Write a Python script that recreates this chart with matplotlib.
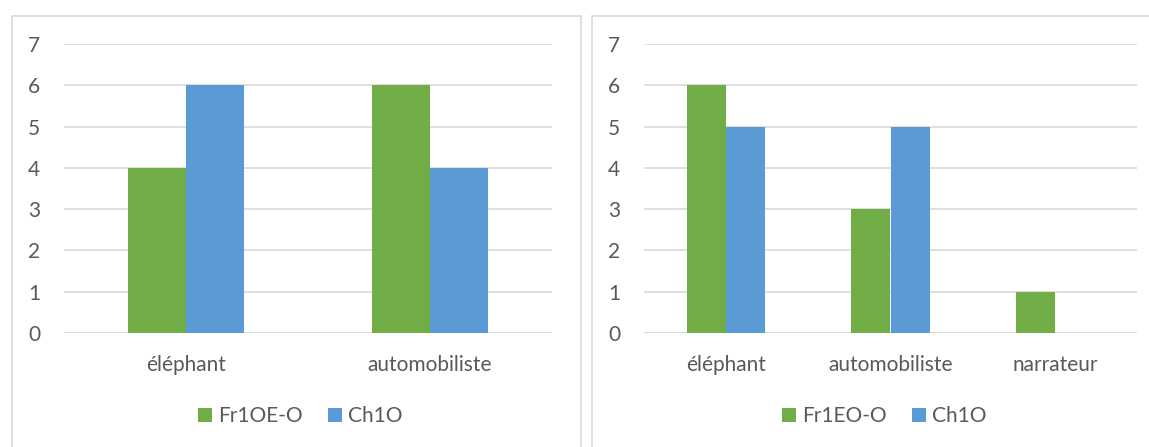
import numpy as np
import matplotlib
matplotlib.use('Agg')
from matplotlib import pyplot as plt
from matplotlib.patches import Rectangle

# data
cats_left = ['éléphant', 'automobiliste']
fr_left = [4, 6]
ch_left = [6, 4]
cats_right = ['éléphant', 'automobiliste', 'narrateur']
fr_right = [6, 3, 1]
ch_right = [5, 5, 0]
labels_left = ['Fr1OE-O', 'Ch1O']
labels_right = ['Fr1EO-O', 'Ch1O']

GREEN = '#70AD47'
BLUE = '#5B9BD5'
TXT = '#595959'
GRID = '#D9D9D9'
FS = 15

plt.rcParams['font.family'] = ['Lato', 'DejaVu Sans']

W, H = 1149, 447
fig = plt.figure(figsize=(W / 100, H / 100), dpi=100)

# chart frames (cropped at bottom / right like the reference)
fig.patches.append(Rectangle((12 / W, -0.1), (581 - 12) / W, 1.1 - 16 / H,
                             transform=fig.transFigure, fill=False, edgecolor=GRID, lw=1.2))
fig.patches.append(Rectangle((592 / W, -0.1), 0.6, 1.1 - 16 / H,
                             transform=fig.transFigure, fill=False, edgecolor=GRID, lw=1.2))


def draw(ax, cats, fr, ch, labels, leg_x):
    x = np.arange(len(cats))
    bw = 1 / (2 + 2.19)
    ax.bar(x - bw / 2, fr, bw, color=GREEN, label=labels[0], zorder=3)
    ax.bar(x + bw / 2, ch, bw, color=BLUE, label=labels[1], zorder=3)
    ax.set_xlim(-0.5, len(cats) - 0.5)
    ax.set_ylim(0, 7)
    ax.set_yticks(range(8))
    ax.set_xticks(x)
    ax.set_xticklabels(cats)
    ax.yaxis.grid(True, color=GRID, lw=1.2, zorder=0)
    ax.set_axisbelow(True)
    for s in ax.spines.values():
        s.set_visible(False)
    ax.axhline(0, color=GRID, lw=1.2, zorder=2)
    ax.tick_params(axis='y', length=0, pad=17, labelsize=FS, labelcolor=TXT)
    ax.tick_params(axis='x', length=0, pad=16, labelsize=FS, labelcolor=TXT)
    ax.legend(loc='center', bbox_to_anchor=(leg_x / W, 1 - 416 / H), bbox_transform=fig.transFigure,
              ncol=2, frameon=False, fontsize=FS, labelcolor=TXT, handlelength=0.68,
              handleheight=0.68, handletextpad=0.3, columnspacing=1.2)


ax1 = fig.add_axes([64 / W, (H - 333) / H, 488 / W, 289 / H])
draw(ax1, cats_left, fr_left, ch_left, labels_left, 300)
ax2 = fig.add_axes([644 / W, (H - 333) / H, 493 / W, 289 / H])
draw(ax2, cats_right, fr_right, ch_right, labels_right, 884)

fig.savefig('out.png', dpi=100)
